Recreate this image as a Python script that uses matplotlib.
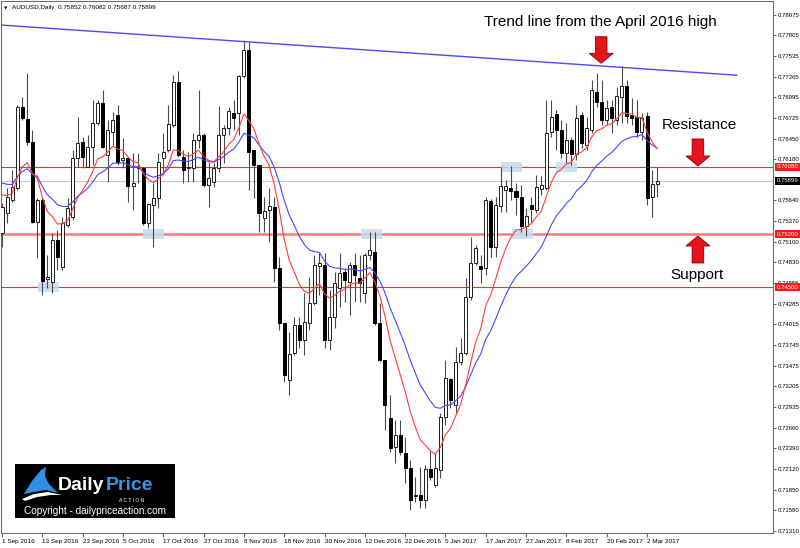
import numpy as np
import pandas as pd
import matplotlib
matplotlib.use("Agg")
import matplotlib.pyplot as plt
import matplotlib.transforms as mtransforms
from matplotlib.patches import Polygon, Rectangle

plt.rcParams['font.family'] = ['Liberation Sans', 'DejaVu Sans']

# AUDUSD daily bars, 1 Sep 2016 - 6 Mar 2017 (no bars on 26 Dec / 2 Jan)
dates = pd.bdate_range('2016-09-01', '2017-03-06')
dates = dates[~dates.isin(pd.to_datetime(['2016-12-26', '2017-01-02']))]

open_ = [0.75213, 0.75476, 0.75646, 0.75803, 0.76865, 0.76708, 0.76406, 0.75358, 0.75646, 0.74610,
         0.74571, 0.75122, 0.74768, 0.75318, 0.75423, 0.76197, 0.76406, 0.76079, 0.76341, 0.76656,
         0.76918, 0.76236, 0.76538, 0.76760, 0.76170, 0.76197, 0.75830, 0.76066, 0.76066, 0.75345,
         0.75580, 0.75672, 0.76197, 0.76302, 0.76629, 0.77193, 0.76210, 0.76066, 0.76066, 0.76433,
         0.76498, 0.75843, 0.75882, 0.76066, 0.76498, 0.76590, 0.76787, 0.76787, 0.77272, 0.77613,
         0.76302, 0.76105, 0.75410, 0.75515, 0.75554, 0.74755, 0.74033, 0.73286, 0.73640, 0.74007,
         0.73811, 0.74033, 0.74296, 0.74781, 0.74794, 0.73811, 0.74112, 0.74492, 0.74702, 0.74571,
         0.74794, 0.74623, 0.74427, 0.74925, 0.74964, 0.74033, 0.73548, 0.72788, 0.72408, 0.72565,
         0.72329, 0.72133, 0.71765, 0.71779, 0.71713, 0.72119, 0.71910, 0.72106, 0.72801, 0.73299,
         0.72958, 0.73522, 0.73640, 0.74374, 0.74820, 0.74781, 0.74755, 0.75633, 0.75030, 0.75567,
         0.75777, 0.75803, 0.75764, 0.75685, 0.75305, 0.75580, 0.75515, 0.75790, 0.75803, 0.76538,
         0.76773, 0.76564, 0.76262, 0.76433, 0.76249, 0.76760, 0.76367, 0.76564, 0.77062, 0.76931,
         0.76695, 0.76865, 0.76695, 0.76996, 0.77141, 0.76760, 0.76734, 0.76538, 0.76747, 0.75685,
         0.75852]
high = [0.75607, 0.75803, 0.76039, 0.76891, 0.76996, 0.77311, 0.76564, 0.75672, 0.75672, 0.74925,
        0.75213, 0.75253, 0.75423, 0.75672, 0.76302, 0.76734, 0.76472, 0.76498, 0.76957, 0.76957,
        0.77088, 0.76695, 0.76800, 0.76891, 0.76459, 0.76210, 0.76262, 0.76262, 0.76079, 0.75607,
        0.75869, 0.76262, 0.76524, 0.76891, 0.77285, 0.77337, 0.76302, 0.76275, 0.76524, 0.77088,
        0.76524, 0.76144, 0.76131, 0.76878, 0.76629, 0.76865, 0.76957, 0.77285, 0.77744, 0.77717,
        0.76302, 0.76105, 0.75685, 0.75803, 0.75685, 0.74899, 0.74033, 0.73916, 0.74112, 0.74112,
        0.74427, 0.74637, 0.74925, 0.74951, 0.74951, 0.74466, 0.74702, 0.74951, 0.74755, 0.74833,
        0.74951, 0.74925, 0.74951, 0.75226, 0.75226, 0.74296, 0.73548, 0.73090, 0.72762, 0.72762,
        0.72539, 0.72237, 0.72015, 0.72146, 0.72172, 0.72369, 0.72329, 0.72854, 0.73548, 0.73312,
        0.73719, 0.73837, 0.74623, 0.75161, 0.75056, 0.74925, 0.75685, 0.75659, 0.75685, 0.76079,
        0.75908, 0.76092, 0.75869, 0.75843, 0.75541, 0.75685, 0.75974, 0.75961, 0.76957, 0.76957,
        0.76826, 0.76695, 0.76656, 0.76472, 0.76891, 0.76800, 0.76734, 0.77219, 0.77311, 0.77219,
        0.76957, 0.76957, 0.77127, 0.77403, 0.77219, 0.76983, 0.76957, 0.76787, 0.76800, 0.76039,
        0.76082]
low = [0.75030, 0.75345, 0.75620, 0.75777, 0.76695, 0.76367, 0.75345, 0.74886, 0.74401, 0.74492,
       0.74427, 0.74728, 0.74728, 0.75292, 0.75384, 0.76079, 0.76066, 0.76079, 0.76105, 0.76629,
       0.76328, 0.75882, 0.76367, 0.76105, 0.76066, 0.75620, 0.75515, 0.75869, 0.75318, 0.75279,
       0.75030, 0.75541, 0.75974, 0.76275, 0.76603, 0.76210, 0.75869, 0.75882, 0.75882, 0.76328,
       0.75816, 0.75554, 0.75816, 0.76013, 0.76131, 0.76498, 0.76564, 0.76498, 0.77245, 0.75777,
       0.75672, 0.75226, 0.75226, 0.75095, 0.74571, 0.73942, 0.73260, 0.73090, 0.73614, 0.73706,
       0.73614, 0.73942, 0.74269, 0.74401, 0.73706, 0.73680, 0.73968, 0.74243, 0.74309, 0.74138,
       0.74309, 0.74309, 0.74296, 0.74859, 0.74007, 0.73522, 0.72631, 0.72342, 0.72198, 0.72303,
       0.71936, 0.71582, 0.71687, 0.71608, 0.71608, 0.71975, 0.71883, 0.72001, 0.72696, 0.72919,
       0.72854, 0.73483, 0.73614, 0.74335, 0.74794, 0.74558, 0.74663, 0.74899, 0.74899, 0.75489,
       0.75489, 0.75646, 0.75449, 0.75226, 0.75174, 0.75358, 0.75476, 0.75712, 0.75777, 0.76472,
       0.76302, 0.76197, 0.76131, 0.76105, 0.76170, 0.76328, 0.76302, 0.76524, 0.76865, 0.76629,
       0.76629, 0.76524, 0.76629, 0.76656, 0.76656, 0.76629, 0.76472, 0.76433, 0.75580, 0.75423,
       0.75687]
close = [0.75554, 0.75685, 0.75816, 0.76865, 0.76721, 0.76406, 0.75358, 0.75646, 0.74584, 0.74637,
         0.75122, 0.74899, 0.75345, 0.75541, 0.76197, 0.76393, 0.76210, 0.76341, 0.76656, 0.76918,
         0.76341, 0.76564, 0.76695, 0.76144, 0.76197, 0.75830, 0.75869, 0.76079, 0.75345, 0.75594,
         0.75672, 0.76144, 0.76275, 0.76642, 0.77193, 0.76236, 0.76039, 0.76079, 0.76433, 0.76498,
         0.75843, 0.75934, 0.76066, 0.76498, 0.76590, 0.76813, 0.76721, 0.77272, 0.77613, 0.76275,
         0.76105, 0.75476, 0.75502, 0.75567, 0.74755, 0.74033, 0.73352, 0.73627, 0.74007, 0.73811,
         0.74047, 0.74296, 0.74794, 0.74820, 0.73811, 0.74112, 0.74558, 0.74689, 0.74597, 0.74794,
         0.74663, 0.74558, 0.74925, 0.74990, 0.74033, 0.73548, 0.72958, 0.72395, 0.72565, 0.72342,
         0.72133, 0.71713, 0.71779, 0.71713, 0.72119, 0.72015, 0.72133, 0.72801, 0.73312, 0.73024,
         0.73522, 0.73640, 0.74374, 0.74820, 0.75017, 0.74741, 0.75646, 0.75030, 0.75580, 0.75830,
         0.75830, 0.75764, 0.75685, 0.75305, 0.75436, 0.75528, 0.75816, 0.75843, 0.76524, 0.76734,
         0.76564, 0.76262, 0.76433, 0.76249, 0.76721, 0.76393, 0.76590, 0.77088, 0.76931, 0.76695,
         0.76852, 0.76721, 0.77009, 0.77141, 0.76747, 0.76721, 0.76538, 0.76721, 0.75672, 0.75852,
         0.75899]

# moving averages (values at first bar)
ma_fast_start = 0.75712
ma_slow_start = 0.75869

levels = [0.76080, 0.75200, 0.74500]
last_price = 0.75899
price_ticks = [0.78075, 0.77805, 0.77535, 0.77265, 0.76995, 0.76725, 0.76450, 0.76180,
               0.75640, 0.75370, 0.75100, 0.74830, 0.74555, 0.74285, 0.74015, 0.73745,
               0.73475, 0.73205, 0.72935, 0.72660, 0.72390, 0.72120, 0.71850, 0.71580, 0.71310]

# trend line from the April 2016 high: (bar, price) anchors
trend_bars = [-0.2, 145.8]
trend_prices = [0.77940, 0.77282]

# highlighted touches: (bar centre, level)
touch_boxes = [(9.2, 0.7450), (30.1, 0.7520), (73.4, 0.7520),
               (101.1, 0.7608), (103.2, 0.7520), (112.0, 0.7608)]


def ema(values, period, start):
    k = 2.0 / (period + 1)
    out = [start]
    for v in values[1:]:
        out.append(out[-1] + k * (v - out[-1]))
    return np.array(out)


o = np.array(open_)
h = np.array(high)
l = np.array(low)
c = np.array(close)
idx = np.arange(len(c))

fig = plt.figure(figsize=(8, 5.48), dpi=100)
ax = fig.add_axes([1 / 800, 15 / 548, 772 / 800, 532 / 548])
xlim = (-0.2, 153.0)
ylim = (0.71280, 0.78255)
ax.set_xlim(*xlim)
ax.set_ylim(*ylim)
px_x = (xlim[1] - xlim[0]) / 772
px_y = (ylim[1] - ylim[0]) / 532

# levels
ax.axhline(last_price, color='#c8c8c8', lw=0.8, zorder=1)
ax.axhline(levels[0], color='#ff2a2a', lw=0.8, zorder=1)
ax.axhline(levels[1], color='#ff7a7a', lw=1.8, zorder=1)
ax.axhline(levels[2], color='#ff2a2a', lw=0.8, zorder=1)

for bx, lv in touch_boxes:
    ax.add_patch(Rectangle((bx - 2.08, lv - 0.00066), 4.16, 0.00132,
                           fc='#c6dcef', ec='none', alpha=0.85, zorder=2))

# candles
up = c >= o
ax.vlines(idx, l, h, color='#4a4a4a', lw=0.8, zorder=3)
ax.bar(idx[up], (c - o)[up], bottom=o[up], width=0.6, color='white',
       edgecolor='#1e1e1e', lw=0.7, zorder=4)
ax.bar(idx[~up], (o - c)[~up], bottom=c[~up], width=0.6, color='black',
       edgecolor='black', lw=0.7, zorder=4)

# moving averages
ax.plot(idx, ema(close, 20, ma_slow_start), color='#4646ff', lw=0.8, zorder=5)
ax.plot(idx, ema(close, 10, ma_fast_start), color='#ff3c3c', lw=0.8, zorder=5)

# trend line
ax.plot(trend_bars, trend_prices, color='#4a4aff', lw=1.0, zorder=5)


def block_arrow(xc, y_tail, y_tip, shaft=5.8, head=12, head_len=10):
    s = shaft * px_x
    w = head * px_x
    d = np.sign(y_tip - y_tail)
    y_base = y_tip - d * head_len * px_y
    pts = [(xc - s, y_tail), (xc + s, y_tail), (xc + s, y_base), (xc + w, y_base),
           (xc, y_tip), (xc - w, y_base), (xc - s, y_base)]
    ax.add_patch(Polygon(pts, closed=True, fc='#e5141b', ec='#8a0000', lw=0.6, zorder=7))


block_arrow(118.9, 0.77787, 0.77438)
block_arrow(138.1, 0.76446, 0.76092)
block_arrow(138.1, 0.74820, 0.75174)

ax.text(118.7, 0.77980, 'Trend line from the April 2016 high', fontsize=11,
        ha='center', va='center', zorder=8)
ax.text(138.4, 0.76629, 'Resistance', fontsize=11, ha='center', va='center', zorder=8)
ax.text(138.0, 0.74663, 'Support', fontsize=11, ha='center', va='center', zorder=8)

# axes styling
for sp in ax.spines.values():
    sp.set_color('#6e6e6e')
    sp.set_linewidth(0.8)

ax.yaxis.tick_right()
ax.set_yticks(price_ticks)
ax.set_yticklabels([f'{p:.5f}' for p in price_ticks])
ax.tick_params(axis='y', length=2, pad=1.5, labelsize=4.3, color='#6e6e6e')

tick_pos = idx[::8]
ax.set_xticks(tick_pos)
ax.set_xticklabels([f"{d.day} {d.strftime('%b %Y')}" for d in dates[::8]])
ax.tick_params(axis='x', length=3, pad=1.5, labelsize=4.6, color='#6e6e6e')
for lbl in ax.get_xticklabels():
    lbl.set_horizontalalignment('left')

trans = mtransforms.blended_transform_factory(ax.transAxes, ax.transData)
for lv, col in [(levels[0], '#ff1a1a'), (last_price, 'black'),
                (levels[1], '#ff1a1a'), (levels[2], '#ff1a1a')]:
    ax.text(1.0 + 3.5 / 772, lv, f'{lv:.5f}', transform=trans, fontsize=4.3, color='white',
            ha='left', va='center', clip_on=False, zorder=10,
            bbox=dict(boxstyle='square,pad=0.25', fc=col, ec='none'))

# header
fig.text(4 / 800, 1 - 8 / 548, '\u25bc', fontsize=3.2, va='center', ha='left',
         family='DejaVu Sans')
fig.text(12 / 800, 1 - 8 / 548, 'AUDUSD,Daily  0.75852 0.76082 0.75687 0.75899',
         fontsize=4.6, va='center', ha='left')

# logo box
lg = fig.add_axes([15 / 800, 30 / 548, 160 / 800, 54 / 548])
lg.set_xlim(0, 160)
lg.set_ylim(54, 0)
lg.axis('off')
lg.add_patch(Rectangle((0, 0), 160, 54, fc='black', ec='none'))
lg.add_patch(Polygon([(9, 30), (17, 17), (26, 6), (31, 3), (30, 12), (34, 20), (43, 29),
                      (31, 26), (19, 28)], closed=True, fc='#2f8fe0', ec='none'))
lg.add_patch(Polygon([(7, 35), (19, 30), (33, 28), (47, 31), (36, 31), (22, 33), (10, 37)],
                     closed=True, fc='white', ec='none'))
lg.text(43, 21, 'Daily', color='white', fontsize=14, fontweight='bold', va='center', ha='left')
lg.text(91, 21, 'Price', color='#3a93e3', fontsize=14, fontweight='bold', va='center', ha='left')
lg.text(117, 36.5, 'A C T I O N', color='white', fontsize=3.6, va='center', ha='center')
lg.text(80, 47, 'Copyright - dailypriceaction.com', color='white', fontsize=7.2,
        va='center', ha='center')

fig.savefig('out.png', dpi=100, facecolor='white')
